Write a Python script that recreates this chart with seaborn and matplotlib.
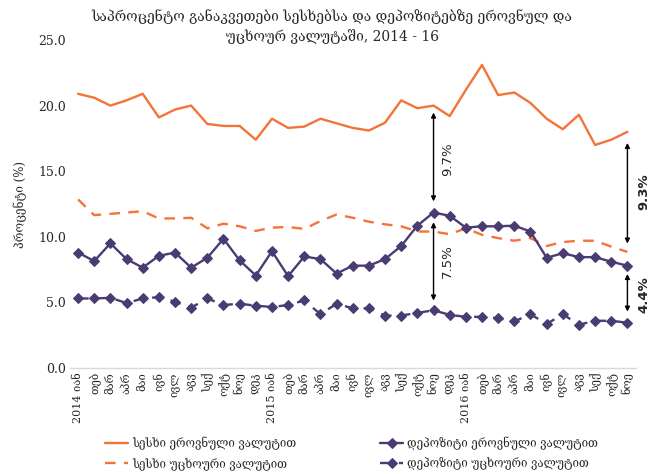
import numpy as np
import pandas as pd
import matplotlib
matplotlib.use("Agg")
import matplotlib.pyplot as plt
import seaborn as sns

months = ["იან", "თებ", "მარ", "აპრ", "მაი", "ივნ", "ივლ", "აგვ", "სექ", "ოქტ", "ნოე", "დეკ"]
tick_labels = []
for yr in ["2014", "2015", "2016"]:
    for i, m in enumerate(months):
        tick_labels.append(f"{yr} {m}" if i == 0 else m)
tick_labels = tick_labels[:35]

loan_nat = [20.9, 20.6, 20.0, 20.4, 20.9, 19.1, 19.7, 20.0, 18.6, 18.45, 18.45, 17.4,
            19.0, 18.3, 18.4, 19.0, 18.65, 18.3, 18.1, 18.7, 20.4, 19.8, 20.0, 19.2,
            21.2, 23.1, 20.8, 21.0, 20.2, 19.0, 18.2, 19.3, 17.0, 17.4, 18.0]
loan_for = [12.85, 11.65, 11.75, 11.85, 11.95, 11.4, 11.4, 11.45, 10.65, 11.0, 10.8, 10.45,
            10.7, 10.75, 10.6, 11.2, 11.7, 11.45, 11.15, 10.95, 10.8, 10.4, 10.4, 10.2,
            10.65, 10.15, 9.9, 9.7, 9.9, 9.3, 9.6, 9.7, 9.7, 9.25, 8.85]
dep_nat = [8.8, 8.15, 9.5, 8.3, 7.65, 8.55, 8.8, 7.65, 8.4, 9.85, 8.2, 7.05,
           8.9, 7.0, 8.5, 8.3, 7.2, 7.8, 7.8, 8.3, 9.3, 10.85, 11.85, 11.6,
           10.7, 10.8, 10.8, 10.85, 10.4, 8.4, 8.75, 8.45, 8.45, 8.1, 7.8]
dep_for = [5.3, 5.3, 5.35, 4.95, 5.3, 5.4, 5.05, 4.6, 5.3, 4.8, 4.9, 4.75,
           4.65, 4.8, 5.15, 4.1, 4.9, 4.55, 4.55, 4.0, 4.0, 4.2, 4.4, 4.05,
           3.9, 3.9, 3.8, 3.55, 4.1, 3.35, 4.1, 3.3, 3.6, 3.6, 3.45]

names = ["სესხი ეროვნული ვალუტით", "სესხი უცხოური ვალუტით",
         "დეპოზიტი ეროვნული ვალუტით", "დეპოზიტი უცხოური ვალუტით"]
title_lines = ["საპროცენტო განაკვეთები სესხებსა და დეპოზიტებზე ეროვნულ და",
               "უცხოურ ვალუტაში, 2014 - 16"]
ylabel = "პროცენტი (%)"

ann_labels = ["9.7%", "7.5%", "9.3%", "4.4%"]

sns.set_style("white")
FAM = ["DejaVu Serif", "DejaVu Sans"]
plt.rcParams["font.family"] = FAM

ORANGE = "#F47339"
PURPLE = "#4B3B73"

x = np.arange(len(loan_nat))
df = pd.DataFrame({"x": x, "ln": loan_nat, "lf": loan_for, "dn": dep_nat, "df": dep_for})

fig = plt.figure(figsize=(6.64, 4.74), dpi=100)
ax = fig.add_axes([70 / 664, 1 - 368 / 474, (635.5 - 70) / 664, (368 - 40) / 474])

sns.lineplot(data=df, x="x", y="ln", ax=ax, color=ORANGE, lw=1.7, label=names[0])
sns.lineplot(data=df, x="x", y="lf", ax=ax, color=ORANGE, lw=1.7, label=names[1])
sns.lineplot(data=df, x="x", y="dn", ax=ax, color=PURPLE, lw=1.7, marker="D",
             markersize=5.5, markeredgecolor=PURPLE, label=names[2])
sns.lineplot(data=df, x="x", y="df", ax=ax, color=PURPLE, lw=1.7, marker="D",
             markersize=5.5, markeredgecolor=PURPLE, label=names[3])
ax.lines[1].set_dashes((4.5, 3.5))
ax.lines[3].set_dashes((4.5, 3.5))

ax.set_xlim(-0.5, 34.5)
ax.set_ylim(0, 25)
yt = np.arange(0, 25.1, 5)
ax.set_yticks(yt)
ax.set_yticklabels([f"{v:.1f}" for v in yt], fontsize=9)
ax.set_xticks(x)
ax.set_xticklabels(tick_labels, rotation=90, fontsize=8)
ax.tick_params(axis="both", length=0, pad=3)
ax.set_xlabel("")
ax.set_ylabel(ylabel, fontsize=8.5, labelpad=8)
for s in ["top", "right", "left"]:
    ax.spines[s].set_visible(False)
ax.spines["bottom"].set_color("#d9d9d9")
ax.spines["bottom"].set_linewidth(1)

fig.text(0.5, 1 - 17 / 474, title_lines[0], ha="center", va="center", fontsize=10)
fig.text(0.5, 1 - 37 / 474, title_lines[1], ha="center", va="center", fontsize=10)

# legend
h, l = ax.get_legend_handles_labels()
ax.legend(h, l, ncol=2, loc="upper left", bbox_to_anchor=(95 / 664, 1 - 426 / 474),
          bbox_transform=fig.transFigure, frameon=False,
          columnspacing=7.3, handlelength=2.0, handletextpad=0.3, labelspacing=0.6,
          prop={"family": FAM, "size": 8.3})

# annotations (spreads)
def spread(i, top, bot, sa, sb, text, bold, dx):
    ax.annotate("", xy=(i, bot), xytext=(i, top),
                arrowprops=dict(arrowstyle="<|-|>", color="black", lw=1.0,
                                mutation_scale=7, shrinkA=sa, shrinkB=sb))
    ax.annotate(text, xy=(i, (top + bot) / 2), xytext=(dx, 0), textcoords="offset points",
                rotation=90, ha="center", va="center", fontsize=9.5,
                fontweight="bold" if bold else "normal", family="DejaVu Sans",
                annotation_clip=False)

spread(22, loan_nat[22], dep_nat[22], 5, 8, ann_labels[0], False, 10)
spread(22, dep_nat[22], dep_for[22], 7, 7, ann_labels[1], False, 10)
spread(34, loan_nat[34], loan_for[34], 8, 6, ann_labels[2], True, 12)
spread(34, dep_nat[34], dep_for[34], 6, 8, ann_labels[3], True, 12)

fig.savefig("out.png", dpi=100)
